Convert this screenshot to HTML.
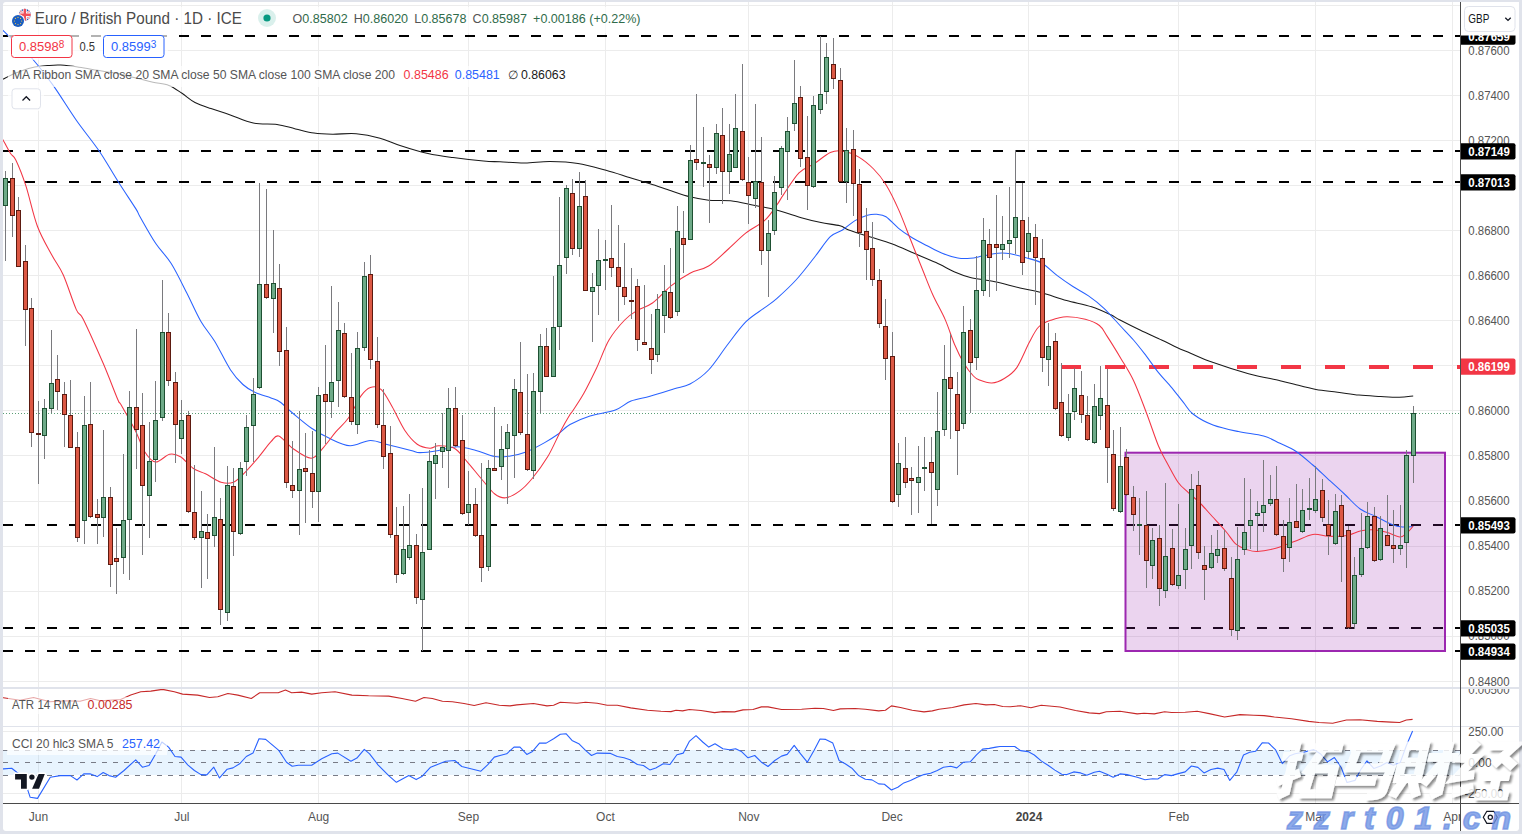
<!DOCTYPE html>
<html><head><meta charset="utf-8"><title>EURGBP</title>
<style>html,body{margin:0;padding:0;background:#e0e3eb;}body{width:1522px;height:834px;overflow:hidden;position:relative;font-family:"Liberation Sans",sans-serif;}svg{position:absolute;left:0;top:0;display:block}text{font-family:"Liberation Sans",sans-serif}</style></head><body>
<svg width="1522" height="834" viewBox="0 0 1522 834">
<rect x="3" y="2" width="1516" height="829" rx="3" ry="3" fill="#ffffff"/>
<clipPath id="ca"><rect x="3" y="2" width="1457" height="801"/></clipPath>
<g shape-rendering="crispEdges">
<rect x="3" y="5" width="1457" height="1" fill="#ececec"/>
<rect x="3" y="50" width="1457" height="1" fill="#ececec"/>
<rect x="3" y="95" width="1457" height="1" fill="#ececec"/>
<rect x="3" y="140" width="1457" height="1" fill="#ececec"/>
<rect x="3" y="185" width="1457" height="1" fill="#ececec"/>
<rect x="3" y="230" width="1457" height="1" fill="#ececec"/>
<rect x="3" y="275" width="1457" height="1" fill="#ececec"/>
<rect x="3" y="320" width="1457" height="1" fill="#ececec"/>
<rect x="3" y="365" width="1457" height="1" fill="#ececec"/>
<rect x="3" y="410" width="1457" height="1" fill="#ececec"/>
<rect x="3" y="455" width="1457" height="1" fill="#ececec"/>
<rect x="3" y="501" width="1457" height="1" fill="#ececec"/>
<rect x="3" y="546" width="1457" height="1" fill="#ececec"/>
<rect x="3" y="591" width="1457" height="1" fill="#ececec"/>
<rect x="3" y="636" width="1457" height="1" fill="#ececec"/>
<rect x="3" y="681" width="1457" height="1" fill="#ececec"/>
<rect x="3" y="731" width="1457" height="1" fill="#ececec"/>
<rect x="3" y="793" width="1457" height="1" fill="#ececec"/>
<rect x="38" y="2" width="1" height="801" fill="#ececec"/>
<rect x="181" y="2" width="1" height="801" fill="#ececec"/>
<rect x="318" y="2" width="1" height="801" fill="#ececec"/>
<rect x="468" y="2" width="1" height="801" fill="#ececec"/>
<rect x="605" y="2" width="1" height="801" fill="#ececec"/>
<rect x="748" y="2" width="1" height="801" fill="#ececec"/>
<rect x="892" y="2" width="1" height="801" fill="#ececec"/>
<rect x="1028" y="2" width="1" height="801" fill="#ececec"/>
<rect x="1178" y="2" width="1" height="801" fill="#ececec"/>
<rect x="1315" y="2" width="1" height="801" fill="#ececec"/>
<rect x="1452" y="2" width="1" height="801" fill="#ececec"/>
</g>
<g stroke="#000000" stroke-width="2" stroke-dasharray="10 12" shape-rendering="crispEdges">
<line x1="3" y1="36" x2="1460" y2="36"/>
<line x1="3" y1="151" x2="1460" y2="151"/>
<line x1="3" y1="182" x2="1460" y2="182"/>
<line x1="3" y1="525" x2="1460" y2="525"/>
<line x1="3" y1="628" x2="1460" y2="628"/>
<line x1="3" y1="651" x2="1460" y2="651"/>
</g>
<line x1="1061" y1="366.5" x2="1460" y2="366.5" stroke="#f23645" stroke-width="4" stroke-dasharray="20 24" shape-rendering="crispEdges"/>
<rect x="1125.5" y="452.7" width="319.5" height="198.3" fill="#9c27b0" fill-opacity="0.2" stroke="#9c27b0" stroke-width="2"/>
<rect x="3" y="750" width="1457" height="25" fill="#2196f3" fill-opacity="0.1"/>
<g stroke="#787b86" stroke-width="1" stroke-dasharray="5 6" shape-rendering="crispEdges">
<line x1="3" y1="750.5" x2="1460" y2="750.5"/>
<line x1="3" y1="762.5" x2="1460" y2="762.5"/>
<line x1="3" y1="775.5" x2="1460" y2="775.5"/>
</g>
<line x1="3" y1="413.5" x2="1460" y2="413.5" stroke="#5b9e76" stroke-width="1" stroke-dasharray="1 2" shape-rendering="crispEdges"/>
<path clip-path="url(#ca)" d="M0.0,80.5 C0.5,80.3 0.6,80.3 3.2,79.1 C5.8,77.8 11.1,74.9 15.8,73.0 C20.6,71.1 26.4,68.9 31.7,67.7 C37.0,66.5 42.7,66.0 47.5,65.6 C52.3,65.2 55.5,64.8 60.7,65.1 C66.0,65.4 72.8,66.3 79.0,67.2 C85.2,68.1 91.0,69.2 97.6,70.3 C104.2,71.4 112.1,72.5 118.7,73.8 C125.3,75.1 131.5,76.9 137.2,78.3 C142.9,79.7 147.7,81.0 153.0,82.2 C158.3,83.4 164.1,83.6 168.9,85.4 C173.7,87.2 177.7,90.5 182.0,93.3 C186.3,96.1 190.2,100.0 195.0,102.5 C199.8,105.0 205.2,106.6 211.0,108.6 C216.8,110.6 222.5,112.3 229.6,114.7 C236.7,117.1 245.4,121.5 253.3,123.1 C261.2,124.7 270.0,123.4 277.0,124.4 C284.0,125.4 289.3,127.5 295.5,128.9 C301.7,130.3 307.8,132.2 314.0,133.1 C320.2,134.0 325.5,134.1 332.5,134.2 C339.5,134.3 348.3,133.0 356.2,133.7 C364.1,134.4 372.7,136.2 380.0,138.2 C387.3,140.2 392.0,142.9 400.0,145.5 C408.0,148.1 419.2,151.6 428.0,153.6 C436.8,155.6 443.8,156.4 453.0,157.6 C462.2,158.8 475.7,160.3 483.5,161.0 C491.3,161.7 493.1,161.5 500.0,161.8 C506.9,162.1 516.7,163.1 525.0,163.0 C533.3,162.9 541.2,161.4 550.0,161.5 C558.8,161.6 568.7,161.9 578.0,163.4 C587.3,164.9 597.2,167.9 606.0,170.3 C614.8,172.7 623.7,175.8 631.0,178.0 C638.3,180.2 643.3,181.6 650.0,183.7 C656.7,185.8 664.3,188.6 671.0,190.8 C677.7,193.0 683.7,195.2 690.0,196.8 C696.3,198.4 702.0,199.5 708.7,200.2 C715.5,200.9 723.2,200.0 730.5,200.8 C737.8,201.6 744.6,203.3 752.4,204.9 C760.2,206.5 769.0,208.0 777.3,210.2 C785.6,212.4 794.9,215.9 802.2,218.0 C809.5,220.1 814.7,221.3 821.0,222.6 C827.3,223.9 835.4,224.6 840.0,225.8 C844.6,227.0 843.6,228.1 848.7,230.0 C853.8,231.9 863.2,234.7 870.5,237.0 C877.8,239.3 885.1,241.3 892.4,244.0 C899.7,246.7 906.9,250.2 914.2,253.3 C921.5,256.4 929.2,259.5 936.0,262.6 C942.8,265.7 949.0,269.5 954.7,272.0 C960.4,274.5 963.6,275.8 970.3,277.4 C977.0,279.0 986.7,280.0 995.0,281.8 C1003.3,283.6 1012.2,286.2 1020.0,288.0 C1027.8,289.8 1033.9,290.7 1041.7,292.8 C1049.5,294.9 1058.3,298.2 1066.6,300.5 C1074.9,302.8 1084.3,304.4 1091.6,306.8 C1098.9,309.2 1105.6,312.4 1110.3,314.6 C1115.0,316.8 1115.0,317.4 1120.0,320.0 C1125.0,322.6 1133.1,326.7 1140.0,330.0 C1146.9,333.3 1155.4,337.1 1161.6,340.0 C1167.8,342.9 1172.3,345.3 1177.0,347.5 C1181.7,349.7 1184.0,350.5 1190.0,353.0 C1196.0,355.5 1203.5,359.2 1213.3,362.6 C1223.0,366.1 1237.4,370.7 1248.5,373.7 C1259.6,376.7 1272.3,378.9 1280.0,380.7 C1287.7,382.5 1288.4,382.9 1294.4,384.3 C1300.4,385.8 1308.8,388.1 1316.0,389.4 C1323.2,390.7 1330.4,391.2 1337.6,392.2 C1344.8,393.1 1351.8,394.4 1359.0,395.1 C1366.2,395.8 1374.0,396.1 1380.7,396.5 C1387.4,396.9 1394.0,397.4 1399.4,397.3 C1404.8,397.2 1410.9,396.2 1413.2,396.0" fill="none" stroke="#1a1a1a" stroke-width="1.05" stroke-linejoin="round"/>
<path clip-path="url(#ca)" d="M0.0,29.0 C0.4,29.2 0.0,27.8 2.5,30.0 C5.0,32.2 10.1,37.3 15.0,42.0 C19.9,46.7 25.4,50.9 31.7,58.0 C38.0,65.2 45.3,74.5 52.8,84.9 C60.3,95.3 68.8,109.5 76.5,120.5 C84.2,131.5 92.0,140.5 99.0,150.8 C106.0,161.1 112.5,172.8 118.7,182.5 C124.9,192.2 132.3,203.2 135.9,208.9 C139.5,214.6 136.7,211.1 140.0,216.8 C143.3,222.5 150.4,235.5 155.6,243.3 C160.8,251.1 166.0,255.2 171.2,263.5 C176.4,271.8 181.9,283.4 186.8,293.0 C191.7,302.6 196.1,313.1 200.8,321.2 C205.5,329.3 209.9,333.4 214.8,341.5 C219.7,349.6 225.7,362.5 230.4,369.7 C235.1,376.9 238.8,380.7 242.9,384.5 C247.1,388.3 250.6,390.4 255.3,392.6 C260.0,394.9 266.9,396.4 271.0,398.0 C275.1,399.6 276.4,399.5 280.0,402.0 C283.6,404.5 287.3,408.7 292.5,413.0 C297.7,417.3 305.0,423.7 311.2,428.0 C317.4,432.3 323.4,435.6 329.9,438.6 C336.4,441.6 343.2,445.5 350.0,445.8 C356.8,446.1 363.9,440.6 370.4,440.5 C376.9,440.4 382.2,443.4 389.0,445.0 C395.8,446.6 405.8,449.1 411.0,450.4 C416.2,451.7 415.4,452.6 420.0,452.6 C424.6,452.6 432.5,451.4 438.7,450.4 C444.9,449.4 451.2,446.7 457.4,446.7 C463.6,446.7 469.8,448.8 476.0,450.4 C482.2,452.0 489.1,455.7 494.8,456.6 C500.5,457.5 505.2,456.8 510.4,456.0 C515.6,455.2 520.3,454.2 526.0,452.0 C531.7,449.8 539.5,445.5 544.7,442.6 C549.9,439.7 553.0,437.8 557.2,434.8 C561.4,431.8 564.5,427.6 570.0,424.5 C575.5,421.4 582.5,418.4 590.0,416.0 C597.5,413.6 608.5,412.5 615.3,410.0 C622.1,407.5 625.2,403.3 631.0,401.0 C636.8,398.7 642.8,398.3 650.0,396.3 C657.2,394.3 667.6,390.9 674.3,388.8 C681.0,386.8 684.3,387.1 690.0,384.0 C695.7,380.9 702.4,376.5 708.6,370.0 C714.8,363.5 721.1,353.1 727.3,345.0 C733.5,336.9 739.8,327.9 746.0,321.7 C752.2,315.5 759.5,311.6 764.7,307.7 C769.9,303.8 771.8,302.9 777.0,298.3 C782.2,293.7 789.7,286.9 796.0,280.0 C802.3,273.1 809.0,264.2 814.7,257.0 C820.4,249.8 825.7,241.2 830.3,236.7 C834.9,232.2 838.4,232.7 842.5,230.0 C846.6,227.3 850.9,223.0 855.0,220.6 C859.1,218.2 863.8,216.4 867.4,215.3 C871.0,214.2 873.7,214.1 876.8,214.3 C879.9,214.6 882.4,214.5 886.0,216.8 C889.6,219.1 894.4,224.9 898.6,228.3 C902.8,231.7 906.3,234.1 911.0,237.0 C915.7,239.9 921.4,242.8 926.6,245.5 C931.8,248.2 937.0,251.2 942.2,253.3 C947.4,255.4 953.1,257.2 957.8,258.0 C962.5,258.8 966.2,258.6 970.3,258.3 C974.4,258.0 977.9,256.9 982.5,256.0 C987.1,255.2 993.3,253.6 998.0,253.2 C1002.7,252.8 1005.8,253.0 1010.5,253.8 C1015.2,254.6 1020.8,256.3 1026.0,257.8 C1031.2,259.3 1036.5,260.0 1041.7,263.0 C1046.9,266.0 1052.1,271.7 1057.3,275.6 C1062.5,279.5 1067.7,283.1 1072.9,286.5 C1078.1,289.9 1083.3,292.3 1088.5,295.9 C1093.7,299.5 1098.8,303.4 1104.0,308.3 C1109.2,313.2 1115.1,320.2 1120.0,325.5 C1124.9,330.8 1129.2,335.0 1133.5,340.0 C1137.8,345.0 1141.8,350.2 1146.0,355.6 C1150.2,361.1 1154.3,367.5 1158.5,372.7 C1162.7,377.9 1166.8,381.9 1171.0,386.8 C1175.2,391.8 1179.7,397.9 1183.4,402.4 C1187.1,406.9 1188.1,410.2 1193.0,414.0 C1197.9,417.8 1205.4,422.1 1213.0,425.0 C1220.6,427.9 1230.1,429.8 1238.5,431.6 C1246.9,433.4 1256.7,434.1 1263.6,436.0 C1270.5,437.9 1274.6,440.8 1280.0,443.3 C1285.4,445.8 1290.3,447.6 1295.8,451.2 C1301.3,454.8 1307.3,460.3 1312.8,465.0 C1318.3,469.7 1323.3,474.8 1328.6,479.6 C1333.9,484.4 1339.1,489.1 1344.4,494.0 C1349.7,498.9 1354.9,505.2 1360.2,509.0 C1365.5,512.8 1370.7,513.9 1376.0,516.5 C1381.3,519.1 1387.6,522.6 1392.0,524.4 C1396.4,526.1 1398.9,526.6 1402.4,527.0 C1405.9,527.4 1411.4,526.6 1413.2,526.5" fill="none" stroke="#2962ff" stroke-width="1.05" stroke-linejoin="round"/>
<path clip-path="url(#ca)" d="M0.0,136.0 C0.5,136.7 1.4,137.4 3.2,140.3 C5.0,143.2 8.5,150.2 10.6,153.5 C12.7,156.8 13.2,154.6 15.8,160.0 C18.4,165.4 22.3,174.9 25.9,185.9 C29.5,196.9 33.1,214.7 37.4,226.2 C41.7,237.7 47.5,246.9 51.8,255.0 C56.1,263.1 59.2,265.9 63.3,275.0 C67.4,284.1 72.9,302.2 76.3,309.6 C79.7,317.1 79.0,310.6 83.5,319.7 C88.0,328.8 97.8,350.9 103.6,364.3 C109.3,377.7 115.1,393.3 118.0,400.0 C120.9,406.7 118.0,399.4 120.9,404.5 C123.8,409.6 131.3,422.5 135.3,430.4 C139.3,438.3 141.3,446.4 144.7,451.7 C148.1,457.0 151.4,461.6 155.6,462.0 C159.8,462.4 165.4,455.1 169.6,454.2 C173.8,453.3 176.6,454.4 180.5,456.7 C184.4,459.0 188.8,465.3 193.0,468.2 C197.2,471.1 200.8,471.5 205.5,473.8 C210.2,476.1 216.3,480.8 221.0,482.2 C225.7,483.6 229.3,484.0 233.5,482.2 C237.7,480.4 241.8,475.4 246.0,471.3 C250.2,467.2 254.3,462.2 258.5,457.3 C262.7,452.4 267.6,445.2 271.0,441.7 C274.4,438.1 275.1,434.9 278.7,436.0 C282.3,437.1 287.1,444.5 292.5,448.2 C297.9,451.9 306.0,458.3 311.2,458.2 C316.4,458.1 319.5,451.7 323.6,447.3 C327.7,442.9 331.8,436.6 336.0,431.7 C340.2,426.8 344.4,423.7 348.6,417.7 C352.8,411.7 357.4,400.9 361.0,395.9 C364.6,390.9 367.0,388.6 370.4,387.5 C373.8,386.4 377.7,386.4 381.3,389.6 C384.9,392.8 388.3,400.0 392.2,406.8 C396.1,413.6 400.5,424.0 404.7,430.2 C408.9,436.4 413.0,441.2 417.2,444.2 C421.4,447.2 426.4,447.9 430.0,448.2 C433.6,448.4 434.6,445.7 438.7,445.7 C442.8,445.7 449.6,445.6 454.3,448.2 C459.0,450.8 462.1,456.0 466.8,461.3 C471.5,466.6 477.7,474.6 482.4,480.0 C487.1,485.4 490.9,491.0 494.8,494.0 C498.7,497.0 501.5,498.3 505.7,497.8 C509.9,497.3 515.4,494.1 519.8,490.9 C524.2,487.7 527.5,484.2 532.2,478.5 C536.9,472.8 543.1,464.4 547.8,456.6 C552.5,448.8 556.6,438.7 560.3,431.7 C564.0,424.7 567.8,418.2 570.0,414.6 C572.2,411.0 571.0,413.6 573.3,410.0 C575.6,406.4 580.1,400.0 584.0,393.0 C587.9,386.0 592.4,376.8 596.6,368.0 C600.8,359.2 604.3,348.0 609.0,340.0 C613.7,332.0 620.0,324.9 624.7,320.0 C629.4,315.1 632.4,313.3 637.0,310.5 C641.6,307.7 646.8,307.1 652.5,303.0 C658.2,298.9 664.8,290.9 671.0,285.9 C677.2,280.9 683.7,276.5 690.0,273.2 C696.3,269.9 702.4,269.9 708.6,266.0 C714.8,262.1 721.1,255.5 727.3,250.0 C733.5,244.5 739.8,237.8 746.0,232.9 C752.2,228.0 759.5,225.1 764.7,220.4 C769.9,215.7 773.9,209.1 777.0,204.8 C780.1,200.5 779.8,199.9 783.5,194.6 C787.2,189.3 793.8,178.0 799.0,172.8 C804.2,167.6 809.5,166.8 814.7,163.4 C819.9,160.0 825.7,154.6 830.3,152.5 C834.9,150.4 837.9,150.3 842.5,151.0 C847.1,151.7 852.8,153.6 858.0,156.6 C863.2,159.6 868.9,164.3 873.6,169.0 C878.3,173.7 881.8,177.9 886.0,184.7 C890.2,191.5 894.4,200.2 898.6,209.6 C902.8,218.9 906.9,230.4 911.0,240.8 C915.1,251.2 919.9,263.0 923.5,272.0 C927.1,281.0 929.3,287.0 932.9,295.0 C936.5,303.0 941.7,311.6 945.3,319.9 C948.9,328.2 951.6,337.5 954.7,344.8 C957.8,352.1 960.9,358.3 964.0,363.5 C967.1,368.7 970.8,373.2 973.4,376.0 C976.0,378.8 976.3,378.8 979.4,380.0 C982.5,381.2 987.6,383.2 991.8,383.0 C995.9,382.8 1000.1,381.1 1004.3,378.5 C1008.5,375.9 1012.6,373.6 1016.8,367.6 C1020.9,361.6 1025.6,349.4 1029.2,342.6 C1032.8,335.8 1035.0,330.7 1038.6,327.0 C1042.2,323.3 1046.3,321.9 1051.0,320.2 C1055.7,318.5 1060.9,316.9 1066.6,316.8 C1072.3,316.7 1079.8,317.9 1085.3,319.3 C1090.8,320.8 1095.8,322.6 1099.4,325.5 C1103.1,328.4 1103.6,330.9 1107.2,336.4 C1110.8,341.9 1116.6,351.3 1121.0,358.7 C1125.4,366.1 1129.3,371.7 1133.5,380.5 C1137.7,389.3 1141.8,400.8 1146.0,411.7 C1150.2,422.6 1154.9,437.3 1158.5,446.0 C1162.1,454.7 1164.2,457.7 1167.5,463.7 C1170.8,469.7 1174.5,477.3 1178.0,482.2 C1181.5,487.1 1185.1,489.5 1188.6,492.8 C1192.1,496.1 1195.0,498.1 1199.0,502.0 C1203.0,505.9 1207.9,511.7 1212.3,516.5 C1216.7,521.3 1221.5,526.4 1225.5,531.0 C1229.5,535.6 1232.5,541.1 1236.0,544.2 C1239.5,547.3 1243.1,548.3 1246.6,549.5 C1250.1,550.7 1252.3,551.7 1257.2,551.5 C1262.1,551.3 1269.6,549.9 1275.8,548.2 C1282.0,546.6 1288.1,543.9 1294.3,541.6 C1300.5,539.3 1307.1,535.3 1312.8,534.4 C1318.5,533.5 1322.9,536.1 1328.6,536.3 C1334.3,536.5 1341.7,536.4 1347.0,535.5 C1352.3,534.6 1355.8,532.0 1360.2,531.0 C1364.6,530.0 1369.0,529.5 1373.4,529.7 C1377.8,529.9 1382.2,531.1 1386.6,532.3 C1391.0,533.5 1396.4,536.9 1399.8,537.0 C1403.2,537.1 1404.8,534.8 1407.0,533.0 C1409.2,531.2 1412.2,527.2 1413.2,526.0" fill="none" stroke="#f23645" stroke-width="1.05" stroke-linejoin="round"/>
<g shape-rendering="crispEdges">
<rect x="5" y="171" width="1" height="90" fill="#7a7a7e"/>
<rect x="3" y="178" width="5" height="28" fill="#1e5032"/>
<rect x="4" y="179" width="3" height="26" fill="#6eaa88"/>
<rect x="12" y="163" width="1" height="74" fill="#7a7a7e"/>
<rect x="10" y="178" width="5" height="38" fill="#5c1a10"/>
<rect x="11" y="179" width="3" height="36" fill="#dc5844"/>
<rect x="18" y="197" width="1" height="70" fill="#7a7a7e"/>
<rect x="16" y="210" width="5" height="57" fill="#5c1a10"/>
<rect x="17" y="211" width="3" height="55" fill="#dc5844"/>
<rect x="25" y="245" width="1" height="101" fill="#7a7a7e"/>
<rect x="23" y="261" width="5" height="49" fill="#5c1a10"/>
<rect x="24" y="262" width="3" height="47" fill="#dc5844"/>
<rect x="31" y="298" width="1" height="149" fill="#7a7a7e"/>
<rect x="29" y="308" width="5" height="125" fill="#5c1a10"/>
<rect x="30" y="309" width="3" height="123" fill="#dc5844"/>
<rect x="38" y="401" width="1" height="83" fill="#7a7a7e"/>
<rect x="36" y="433" width="5" height="2" fill="#5c1a10"/>
<rect x="44" y="399" width="1" height="60" fill="#7a7a7e"/>
<rect x="42" y="408" width="5" height="28" fill="#1e5032"/>
<rect x="43" y="409" width="3" height="26" fill="#6eaa88"/>
<rect x="51" y="330" width="1" height="83" fill="#7a7a7e"/>
<rect x="49" y="383" width="5" height="26" fill="#1e5032"/>
<rect x="50" y="384" width="3" height="24" fill="#6eaa88"/>
<rect x="57" y="355" width="1" height="55" fill="#7a7a7e"/>
<rect x="55" y="379" width="5" height="13" fill="#5c1a10"/>
<rect x="56" y="380" width="3" height="11" fill="#dc5844"/>
<rect x="64" y="382" width="1" height="65" fill="#7a7a7e"/>
<rect x="62" y="394" width="5" height="21" fill="#5c1a10"/>
<rect x="63" y="395" width="3" height="19" fill="#dc5844"/>
<rect x="70" y="380" width="1" height="68" fill="#7a7a7e"/>
<rect x="68" y="415" width="5" height="33" fill="#5c1a10"/>
<rect x="69" y="416" width="3" height="31" fill="#dc5844"/>
<rect x="77" y="432" width="1" height="110" fill="#7a7a7e"/>
<rect x="75" y="447" width="5" height="91" fill="#5c1a10"/>
<rect x="76" y="448" width="3" height="89" fill="#dc5844"/>
<rect x="84" y="396" width="1" height="148" fill="#7a7a7e"/>
<rect x="82" y="425" width="5" height="96" fill="#1e5032"/>
<rect x="83" y="426" width="3" height="94" fill="#6eaa88"/>
<rect x="90" y="382" width="1" height="136" fill="#7a7a7e"/>
<rect x="88" y="424" width="5" height="93" fill="#5c1a10"/>
<rect x="89" y="425" width="3" height="91" fill="#dc5844"/>
<rect x="97" y="499" width="1" height="45" fill="#7a7a7e"/>
<rect x="95" y="514" width="5" height="4" fill="#5c1a10"/>
<rect x="96" y="515" width="3" height="2" fill="#dc5844"/>
<rect x="103" y="430" width="1" height="107" fill="#7a7a7e"/>
<rect x="101" y="497" width="5" height="21" fill="#1e5032"/>
<rect x="102" y="498" width="3" height="19" fill="#6eaa88"/>
<rect x="110" y="487" width="1" height="100" fill="#7a7a7e"/>
<rect x="108" y="497" width="5" height="68" fill="#5c1a10"/>
<rect x="109" y="498" width="3" height="66" fill="#dc5844"/>
<rect x="116" y="528" width="1" height="66" fill="#7a7a7e"/>
<rect x="114" y="558" width="5" height="4" fill="#5c1a10"/>
<rect x="115" y="559" width="3" height="2" fill="#dc5844"/>
<rect x="123" y="454" width="1" height="120" fill="#7a7a7e"/>
<rect x="121" y="520" width="5" height="38" fill="#1e5032"/>
<rect x="122" y="521" width="3" height="36" fill="#6eaa88"/>
<rect x="129" y="391" width="1" height="189" fill="#7a7a7e"/>
<rect x="127" y="407" width="5" height="113" fill="#1e5032"/>
<rect x="128" y="408" width="3" height="111" fill="#6eaa88"/>
<rect x="136" y="329" width="1" height="140" fill="#7a7a7e"/>
<rect x="134" y="407" width="5" height="23" fill="#5c1a10"/>
<rect x="135" y="408" width="3" height="21" fill="#dc5844"/>
<rect x="142" y="393" width="1" height="162" fill="#7a7a7e"/>
<rect x="140" y="425" width="5" height="61" fill="#5c1a10"/>
<rect x="141" y="426" width="3" height="59" fill="#dc5844"/>
<rect x="149" y="422" width="1" height="116" fill="#7a7a7e"/>
<rect x="147" y="461" width="5" height="35" fill="#1e5032"/>
<rect x="148" y="462" width="3" height="33" fill="#6eaa88"/>
<rect x="155" y="381" width="1" height="101" fill="#7a7a7e"/>
<rect x="153" y="420" width="5" height="40" fill="#1e5032"/>
<rect x="154" y="421" width="3" height="38" fill="#6eaa88"/>
<rect x="162" y="280" width="1" height="141" fill="#7a7a7e"/>
<rect x="160" y="332" width="5" height="86" fill="#1e5032"/>
<rect x="161" y="333" width="3" height="84" fill="#6eaa88"/>
<rect x="168" y="313" width="1" height="73" fill="#7a7a7e"/>
<rect x="166" y="332" width="5" height="49" fill="#5c1a10"/>
<rect x="167" y="333" width="3" height="47" fill="#dc5844"/>
<rect x="175" y="372" width="1" height="91" fill="#7a7a7e"/>
<rect x="173" y="382" width="5" height="43" fill="#5c1a10"/>
<rect x="174" y="383" width="3" height="41" fill="#dc5844"/>
<rect x="181" y="400" width="1" height="54" fill="#7a7a7e"/>
<rect x="179" y="420" width="5" height="19" fill="#1e5032"/>
<rect x="180" y="421" width="3" height="17" fill="#6eaa88"/>
<rect x="188" y="411" width="1" height="102" fill="#7a7a7e"/>
<rect x="186" y="415" width="5" height="97" fill="#5c1a10"/>
<rect x="187" y="416" width="3" height="95" fill="#dc5844"/>
<rect x="194" y="465" width="1" height="75" fill="#7a7a7e"/>
<rect x="192" y="512" width="5" height="26" fill="#5c1a10"/>
<rect x="193" y="513" width="3" height="24" fill="#dc5844"/>
<rect x="201" y="491" width="1" height="97" fill="#7a7a7e"/>
<rect x="199" y="531" width="5" height="7" fill="#1e5032"/>
<rect x="200" y="532" width="3" height="5" fill="#6eaa88"/>
<rect x="207" y="514" width="1" height="65" fill="#7a7a7e"/>
<rect x="205" y="532" width="5" height="7" fill="#5c1a10"/>
<rect x="206" y="533" width="3" height="5" fill="#dc5844"/>
<rect x="214" y="447" width="1" height="100" fill="#7a7a7e"/>
<rect x="212" y="517" width="5" height="19" fill="#1e5032"/>
<rect x="213" y="518" width="3" height="17" fill="#6eaa88"/>
<rect x="220" y="498" width="1" height="127" fill="#7a7a7e"/>
<rect x="218" y="519" width="5" height="91" fill="#5c1a10"/>
<rect x="219" y="520" width="3" height="89" fill="#dc5844"/>
<rect x="227" y="466" width="1" height="155" fill="#7a7a7e"/>
<rect x="225" y="485" width="5" height="128" fill="#1e5032"/>
<rect x="226" y="486" width="3" height="126" fill="#6eaa88"/>
<rect x="233" y="468" width="1" height="88" fill="#7a7a7e"/>
<rect x="231" y="486" width="5" height="46" fill="#5c1a10"/>
<rect x="232" y="487" width="3" height="44" fill="#dc5844"/>
<rect x="240" y="462" width="1" height="73" fill="#7a7a7e"/>
<rect x="238" y="468" width="5" height="66" fill="#1e5032"/>
<rect x="239" y="469" width="3" height="64" fill="#6eaa88"/>
<rect x="246" y="415" width="1" height="61" fill="#7a7a7e"/>
<rect x="244" y="427" width="5" height="35" fill="#1e5032"/>
<rect x="245" y="428" width="3" height="33" fill="#6eaa88"/>
<rect x="253" y="378" width="1" height="84" fill="#7a7a7e"/>
<rect x="251" y="394" width="5" height="32" fill="#1e5032"/>
<rect x="252" y="395" width="3" height="30" fill="#6eaa88"/>
<rect x="259" y="183" width="1" height="206" fill="#7a7a7e"/>
<rect x="257" y="284" width="5" height="104" fill="#1e5032"/>
<rect x="258" y="285" width="3" height="102" fill="#6eaa88"/>
<rect x="266" y="189" width="1" height="110" fill="#7a7a7e"/>
<rect x="264" y="284" width="5" height="14" fill="#5c1a10"/>
<rect x="265" y="285" width="3" height="12" fill="#dc5844"/>
<rect x="273" y="230" width="1" height="103" fill="#7a7a7e"/>
<rect x="271" y="283" width="5" height="16" fill="#1e5032"/>
<rect x="272" y="284" width="3" height="14" fill="#6eaa88"/>
<rect x="279" y="264" width="1" height="102" fill="#7a7a7e"/>
<rect x="277" y="288" width="5" height="64" fill="#5c1a10"/>
<rect x="278" y="289" width="3" height="62" fill="#dc5844"/>
<rect x="286" y="327" width="1" height="161" fill="#7a7a7e"/>
<rect x="284" y="350" width="5" height="133" fill="#5c1a10"/>
<rect x="285" y="351" width="3" height="131" fill="#dc5844"/>
<rect x="292" y="441" width="1" height="57" fill="#7a7a7e"/>
<rect x="290" y="485" width="5" height="6" fill="#5c1a10"/>
<rect x="291" y="486" width="3" height="4" fill="#dc5844"/>
<rect x="299" y="411" width="1" height="124" fill="#7a7a7e"/>
<rect x="297" y="469" width="5" height="22" fill="#1e5032"/>
<rect x="298" y="470" width="3" height="20" fill="#6eaa88"/>
<rect x="305" y="433" width="1" height="90" fill="#7a7a7e"/>
<rect x="303" y="468" width="5" height="4" fill="#5c1a10"/>
<rect x="304" y="469" width="3" height="2" fill="#dc5844"/>
<rect x="312" y="431" width="1" height="77" fill="#7a7a7e"/>
<rect x="310" y="473" width="5" height="19" fill="#5c1a10"/>
<rect x="311" y="474" width="3" height="17" fill="#dc5844"/>
<rect x="318" y="387" width="1" height="135" fill="#7a7a7e"/>
<rect x="316" y="395" width="5" height="97" fill="#1e5032"/>
<rect x="317" y="396" width="3" height="95" fill="#6eaa88"/>
<rect x="325" y="345" width="1" height="99" fill="#7a7a7e"/>
<rect x="323" y="394" width="5" height="8" fill="#5c1a10"/>
<rect x="324" y="395" width="3" height="6" fill="#dc5844"/>
<rect x="331" y="286" width="1" height="132" fill="#7a7a7e"/>
<rect x="329" y="382" width="5" height="20" fill="#1e5032"/>
<rect x="330" y="383" width="3" height="18" fill="#6eaa88"/>
<rect x="338" y="302" width="1" height="105" fill="#7a7a7e"/>
<rect x="336" y="330" width="5" height="51" fill="#1e5032"/>
<rect x="337" y="331" width="3" height="49" fill="#6eaa88"/>
<rect x="344" y="323" width="1" height="75" fill="#7a7a7e"/>
<rect x="342" y="333" width="5" height="64" fill="#5c1a10"/>
<rect x="343" y="334" width="3" height="62" fill="#dc5844"/>
<rect x="351" y="353" width="1" height="72" fill="#7a7a7e"/>
<rect x="349" y="397" width="5" height="25" fill="#5c1a10"/>
<rect x="350" y="398" width="3" height="23" fill="#dc5844"/>
<rect x="357" y="332" width="1" height="102" fill="#7a7a7e"/>
<rect x="355" y="348" width="5" height="77" fill="#1e5032"/>
<rect x="356" y="349" width="3" height="75" fill="#6eaa88"/>
<rect x="364" y="262" width="1" height="89" fill="#7a7a7e"/>
<rect x="362" y="276" width="5" height="72" fill="#1e5032"/>
<rect x="363" y="277" width="3" height="70" fill="#6eaa88"/>
<rect x="370" y="255" width="1" height="114" fill="#7a7a7e"/>
<rect x="368" y="274" width="5" height="86" fill="#5c1a10"/>
<rect x="369" y="275" width="3" height="84" fill="#dc5844"/>
<rect x="377" y="337" width="1" height="91" fill="#7a7a7e"/>
<rect x="375" y="361" width="5" height="64" fill="#5c1a10"/>
<rect x="376" y="362" width="3" height="62" fill="#dc5844"/>
<rect x="383" y="389" width="1" height="80" fill="#7a7a7e"/>
<rect x="381" y="425" width="5" height="32" fill="#5c1a10"/>
<rect x="382" y="426" width="3" height="30" fill="#dc5844"/>
<rect x="390" y="426" width="1" height="112" fill="#7a7a7e"/>
<rect x="388" y="453" width="5" height="82" fill="#5c1a10"/>
<rect x="389" y="454" width="3" height="80" fill="#dc5844"/>
<rect x="396" y="507" width="1" height="76" fill="#7a7a7e"/>
<rect x="394" y="535" width="5" height="40" fill="#5c1a10"/>
<rect x="395" y="536" width="3" height="38" fill="#dc5844"/>
<rect x="403" y="506" width="1" height="69" fill="#7a7a7e"/>
<rect x="401" y="549" width="5" height="25" fill="#1e5032"/>
<rect x="402" y="550" width="3" height="23" fill="#6eaa88"/>
<rect x="409" y="494" width="1" height="66" fill="#7a7a7e"/>
<rect x="407" y="545" width="5" height="13" fill="#1e5032"/>
<rect x="408" y="546" width="3" height="11" fill="#6eaa88"/>
<rect x="416" y="534" width="1" height="70" fill="#7a7a7e"/>
<rect x="414" y="545" width="5" height="53" fill="#5c1a10"/>
<rect x="415" y="546" width="3" height="51" fill="#dc5844"/>
<rect x="422" y="488" width="1" height="163" fill="#7a7a7e"/>
<rect x="420" y="552" width="5" height="48" fill="#1e5032"/>
<rect x="421" y="553" width="3" height="46" fill="#6eaa88"/>
<rect x="429" y="450" width="1" height="100" fill="#7a7a7e"/>
<rect x="427" y="461" width="5" height="89" fill="#1e5032"/>
<rect x="428" y="462" width="3" height="87" fill="#6eaa88"/>
<rect x="435" y="443" width="1" height="56" fill="#7a7a7e"/>
<rect x="433" y="455" width="5" height="9" fill="#1e5032"/>
<rect x="434" y="456" width="3" height="7" fill="#6eaa88"/>
<rect x="442" y="413" width="1" height="55" fill="#7a7a7e"/>
<rect x="440" y="447" width="5" height="5" fill="#1e5032"/>
<rect x="441" y="448" width="3" height="3" fill="#6eaa88"/>
<rect x="448" y="388" width="1" height="100" fill="#7a7a7e"/>
<rect x="446" y="408" width="5" height="43" fill="#1e5032"/>
<rect x="447" y="409" width="3" height="41" fill="#6eaa88"/>
<rect x="455" y="387" width="1" height="60" fill="#7a7a7e"/>
<rect x="453" y="408" width="5" height="38" fill="#5c1a10"/>
<rect x="454" y="409" width="3" height="36" fill="#dc5844"/>
<rect x="462" y="415" width="1" height="100" fill="#7a7a7e"/>
<rect x="460" y="440" width="5" height="74" fill="#5c1a10"/>
<rect x="461" y="441" width="3" height="72" fill="#dc5844"/>
<rect x="468" y="471" width="1" height="54" fill="#7a7a7e"/>
<rect x="466" y="504" width="5" height="9" fill="#1e5032"/>
<rect x="467" y="505" width="3" height="7" fill="#6eaa88"/>
<rect x="475" y="488" width="1" height="49" fill="#7a7a7e"/>
<rect x="473" y="504" width="5" height="32" fill="#5c1a10"/>
<rect x="474" y="505" width="3" height="30" fill="#dc5844"/>
<rect x="481" y="463" width="1" height="119" fill="#7a7a7e"/>
<rect x="479" y="535" width="5" height="33" fill="#5c1a10"/>
<rect x="480" y="536" width="3" height="31" fill="#dc5844"/>
<rect x="488" y="460" width="1" height="111" fill="#7a7a7e"/>
<rect x="486" y="468" width="5" height="99" fill="#1e5032"/>
<rect x="487" y="469" width="3" height="97" fill="#6eaa88"/>
<rect x="494" y="407" width="1" height="64" fill="#7a7a7e"/>
<rect x="492" y="468" width="5" height="3" fill="#5c1a10"/>
<rect x="493" y="469" width="3" height="1" fill="#dc5844"/>
<rect x="501" y="426" width="1" height="54" fill="#7a7a7e"/>
<rect x="499" y="449" width="5" height="18" fill="#1e5032"/>
<rect x="500" y="450" width="3" height="16" fill="#6eaa88"/>
<rect x="507" y="424" width="1" height="80" fill="#7a7a7e"/>
<rect x="505" y="432" width="5" height="17" fill="#1e5032"/>
<rect x="506" y="433" width="3" height="15" fill="#6eaa88"/>
<rect x="514" y="379" width="1" height="99" fill="#7a7a7e"/>
<rect x="512" y="389" width="5" height="47" fill="#1e5032"/>
<rect x="513" y="390" width="3" height="45" fill="#6eaa88"/>
<rect x="520" y="342" width="1" height="93" fill="#7a7a7e"/>
<rect x="518" y="392" width="5" height="41" fill="#5c1a10"/>
<rect x="519" y="393" width="3" height="39" fill="#dc5844"/>
<rect x="527" y="374" width="1" height="97" fill="#7a7a7e"/>
<rect x="525" y="434" width="5" height="36" fill="#5c1a10"/>
<rect x="526" y="435" width="3" height="34" fill="#dc5844"/>
<rect x="533" y="373" width="1" height="106" fill="#7a7a7e"/>
<rect x="531" y="391" width="5" height="80" fill="#1e5032"/>
<rect x="532" y="392" width="3" height="78" fill="#6eaa88"/>
<rect x="540" y="334" width="1" height="79" fill="#7a7a7e"/>
<rect x="538" y="346" width="5" height="46" fill="#1e5032"/>
<rect x="539" y="347" width="3" height="44" fill="#6eaa88"/>
<rect x="546" y="328" width="1" height="49" fill="#7a7a7e"/>
<rect x="544" y="346" width="5" height="31" fill="#5c1a10"/>
<rect x="545" y="347" width="3" height="29" fill="#dc5844"/>
<rect x="553" y="276" width="1" height="101" fill="#7a7a7e"/>
<rect x="551" y="327" width="5" height="50" fill="#1e5032"/>
<rect x="552" y="328" width="3" height="48" fill="#6eaa88"/>
<rect x="559" y="197" width="1" height="153" fill="#7a7a7e"/>
<rect x="557" y="265" width="5" height="62" fill="#1e5032"/>
<rect x="558" y="266" width="3" height="60" fill="#6eaa88"/>
<rect x="566" y="185" width="1" height="89" fill="#7a7a7e"/>
<rect x="564" y="188" width="5" height="70" fill="#1e5032"/>
<rect x="565" y="189" width="3" height="68" fill="#6eaa88"/>
<rect x="572" y="179" width="1" height="76" fill="#7a7a7e"/>
<rect x="570" y="193" width="5" height="56" fill="#5c1a10"/>
<rect x="571" y="194" width="3" height="54" fill="#dc5844"/>
<rect x="579" y="172" width="1" height="85" fill="#7a7a7e"/>
<rect x="577" y="206" width="5" height="43" fill="#1e5032"/>
<rect x="578" y="207" width="3" height="41" fill="#6eaa88"/>
<rect x="585" y="180" width="1" height="111" fill="#7a7a7e"/>
<rect x="583" y="196" width="5" height="95" fill="#5c1a10"/>
<rect x="584" y="197" width="3" height="93" fill="#dc5844"/>
<rect x="592" y="273" width="1" height="69" fill="#7a7a7e"/>
<rect x="590" y="287" width="5" height="5" fill="#1e5032"/>
<rect x="591" y="288" width="3" height="3" fill="#6eaa88"/>
<rect x="598" y="229" width="1" height="86" fill="#7a7a7e"/>
<rect x="596" y="260" width="5" height="26" fill="#1e5032"/>
<rect x="597" y="261" width="3" height="24" fill="#6eaa88"/>
<rect x="605" y="240" width="1" height="50" fill="#7a7a7e"/>
<rect x="603" y="259" width="5" height="2" fill="#1e5032"/>
<rect x="611" y="205" width="1" height="72" fill="#7a7a7e"/>
<rect x="609" y="258" width="5" height="10" fill="#5c1a10"/>
<rect x="610" y="259" width="3" height="8" fill="#dc5844"/>
<rect x="618" y="225" width="1" height="96" fill="#7a7a7e"/>
<rect x="616" y="267" width="5" height="20" fill="#5c1a10"/>
<rect x="617" y="268" width="3" height="18" fill="#dc5844"/>
<rect x="624" y="243" width="1" height="62" fill="#7a7a7e"/>
<rect x="622" y="287" width="5" height="10" fill="#5c1a10"/>
<rect x="623" y="288" width="3" height="8" fill="#dc5844"/>
<rect x="631" y="268" width="1" height="51" fill="#7a7a7e"/>
<rect x="629" y="300" width="5" height="2" fill="#5c1a10"/>
<rect x="637" y="279" width="1" height="72" fill="#7a7a7e"/>
<rect x="635" y="286" width="5" height="54" fill="#5c1a10"/>
<rect x="636" y="287" width="3" height="52" fill="#dc5844"/>
<rect x="644" y="285" width="1" height="60" fill="#7a7a7e"/>
<rect x="642" y="342" width="5" height="3" fill="#5c1a10"/>
<rect x="643" y="343" width="3" height="1" fill="#dc5844"/>
<rect x="651" y="314" width="1" height="60" fill="#7a7a7e"/>
<rect x="649" y="348" width="5" height="12" fill="#5c1a10"/>
<rect x="650" y="349" width="3" height="10" fill="#dc5844"/>
<rect x="657" y="294" width="1" height="68" fill="#7a7a7e"/>
<rect x="655" y="309" width="5" height="46" fill="#1e5032"/>
<rect x="656" y="310" width="3" height="44" fill="#6eaa88"/>
<rect x="664" y="265" width="1" height="68" fill="#7a7a7e"/>
<rect x="662" y="291" width="5" height="25" fill="#1e5032"/>
<rect x="663" y="292" width="3" height="23" fill="#6eaa88"/>
<rect x="670" y="248" width="1" height="71" fill="#7a7a7e"/>
<rect x="668" y="292" width="5" height="26" fill="#5c1a10"/>
<rect x="669" y="293" width="3" height="24" fill="#dc5844"/>
<rect x="677" y="206" width="1" height="110" fill="#7a7a7e"/>
<rect x="675" y="231" width="5" height="81" fill="#1e5032"/>
<rect x="676" y="232" width="3" height="79" fill="#6eaa88"/>
<rect x="683" y="211" width="1" height="62" fill="#7a7a7e"/>
<rect x="681" y="238" width="5" height="7" fill="#5c1a10"/>
<rect x="682" y="239" width="3" height="5" fill="#dc5844"/>
<rect x="690" y="145" width="1" height="95" fill="#7a7a7e"/>
<rect x="688" y="160" width="5" height="80" fill="#1e5032"/>
<rect x="689" y="161" width="3" height="78" fill="#6eaa88"/>
<rect x="696" y="94" width="1" height="76" fill="#7a7a7e"/>
<rect x="694" y="159" width="5" height="4" fill="#5c1a10"/>
<rect x="695" y="160" width="3" height="2" fill="#dc5844"/>
<rect x="703" y="127" width="1" height="60" fill="#7a7a7e"/>
<rect x="701" y="162" width="5" height="2" fill="#1e5032"/>
<rect x="709" y="155" width="1" height="68" fill="#7a7a7e"/>
<rect x="707" y="164" width="5" height="4" fill="#5c1a10"/>
<rect x="708" y="165" width="3" height="2" fill="#dc5844"/>
<rect x="716" y="124" width="1" height="50" fill="#7a7a7e"/>
<rect x="714" y="133" width="5" height="35" fill="#1e5032"/>
<rect x="715" y="134" width="3" height="33" fill="#6eaa88"/>
<rect x="722" y="108" width="1" height="96" fill="#7a7a7e"/>
<rect x="720" y="135" width="5" height="37" fill="#5c1a10"/>
<rect x="721" y="136" width="3" height="35" fill="#dc5844"/>
<rect x="729" y="124" width="1" height="70" fill="#7a7a7e"/>
<rect x="727" y="154" width="5" height="18" fill="#1e5032"/>
<rect x="728" y="155" width="3" height="16" fill="#6eaa88"/>
<rect x="735" y="94" width="1" height="74" fill="#7a7a7e"/>
<rect x="733" y="128" width="5" height="40" fill="#1e5032"/>
<rect x="734" y="129" width="3" height="38" fill="#6eaa88"/>
<rect x="742" y="64" width="1" height="117" fill="#7a7a7e"/>
<rect x="740" y="131" width="5" height="49" fill="#5c1a10"/>
<rect x="741" y="132" width="3" height="47" fill="#dc5844"/>
<rect x="748" y="157" width="1" height="67" fill="#7a7a7e"/>
<rect x="746" y="182" width="5" height="14" fill="#5c1a10"/>
<rect x="747" y="183" width="3" height="12" fill="#dc5844"/>
<rect x="755" y="104" width="1" height="104" fill="#7a7a7e"/>
<rect x="753" y="181" width="5" height="18" fill="#1e5032"/>
<rect x="754" y="182" width="3" height="16" fill="#6eaa88"/>
<rect x="761" y="137" width="1" height="128" fill="#7a7a7e"/>
<rect x="759" y="182" width="5" height="69" fill="#5c1a10"/>
<rect x="760" y="183" width="3" height="67" fill="#dc5844"/>
<rect x="768" y="220" width="1" height="77" fill="#7a7a7e"/>
<rect x="766" y="233" width="5" height="18" fill="#1e5032"/>
<rect x="767" y="234" width="3" height="16" fill="#6eaa88"/>
<rect x="774" y="176" width="1" height="59" fill="#7a7a7e"/>
<rect x="772" y="192" width="5" height="39" fill="#1e5032"/>
<rect x="773" y="193" width="3" height="37" fill="#6eaa88"/>
<rect x="781" y="146" width="1" height="49" fill="#7a7a7e"/>
<rect x="779" y="148" width="5" height="40" fill="#1e5032"/>
<rect x="780" y="149" width="3" height="38" fill="#6eaa88"/>
<rect x="787" y="117" width="1" height="83" fill="#7a7a7e"/>
<rect x="785" y="131" width="5" height="21" fill="#1e5032"/>
<rect x="786" y="132" width="3" height="19" fill="#6eaa88"/>
<rect x="794" y="60" width="1" height="71" fill="#7a7a7e"/>
<rect x="792" y="103" width="5" height="21" fill="#1e5032"/>
<rect x="793" y="104" width="3" height="19" fill="#6eaa88"/>
<rect x="800" y="86" width="1" height="81" fill="#7a7a7e"/>
<rect x="798" y="97" width="5" height="62" fill="#5c1a10"/>
<rect x="799" y="98" width="3" height="60" fill="#dc5844"/>
<rect x="807" y="116" width="1" height="94" fill="#7a7a7e"/>
<rect x="805" y="157" width="5" height="29" fill="#5c1a10"/>
<rect x="806" y="158" width="3" height="27" fill="#dc5844"/>
<rect x="813" y="96" width="1" height="92" fill="#7a7a7e"/>
<rect x="811" y="105" width="5" height="82" fill="#1e5032"/>
<rect x="812" y="106" width="3" height="80" fill="#6eaa88"/>
<rect x="820" y="36" width="1" height="78" fill="#7a7a7e"/>
<rect x="818" y="94" width="5" height="16" fill="#1e5032"/>
<rect x="819" y="95" width="3" height="14" fill="#6eaa88"/>
<rect x="826" y="43" width="1" height="61" fill="#7a7a7e"/>
<rect x="824" y="57" width="5" height="35" fill="#1e5032"/>
<rect x="825" y="58" width="3" height="33" fill="#6eaa88"/>
<rect x="833" y="38" width="1" height="51" fill="#7a7a7e"/>
<rect x="831" y="64" width="5" height="15" fill="#5c1a10"/>
<rect x="832" y="65" width="3" height="13" fill="#dc5844"/>
<rect x="840" y="68" width="1" height="114" fill="#7a7a7e"/>
<rect x="838" y="80" width="5" height="102" fill="#5c1a10"/>
<rect x="839" y="81" width="3" height="100" fill="#dc5844"/>
<rect x="846" y="128" width="1" height="75" fill="#7a7a7e"/>
<rect x="844" y="150" width="5" height="32" fill="#1e5032"/>
<rect x="845" y="151" width="3" height="30" fill="#6eaa88"/>
<rect x="853" y="130" width="1" height="86" fill="#7a7a7e"/>
<rect x="851" y="149" width="5" height="35" fill="#5c1a10"/>
<rect x="852" y="150" width="3" height="33" fill="#dc5844"/>
<rect x="859" y="169" width="1" height="78" fill="#7a7a7e"/>
<rect x="857" y="184" width="5" height="49" fill="#5c1a10"/>
<rect x="858" y="185" width="3" height="47" fill="#dc5844"/>
<rect x="866" y="208" width="1" height="72" fill="#7a7a7e"/>
<rect x="864" y="231" width="5" height="19" fill="#5c1a10"/>
<rect x="865" y="232" width="3" height="17" fill="#dc5844"/>
<rect x="872" y="222" width="1" height="64" fill="#7a7a7e"/>
<rect x="870" y="248" width="5" height="32" fill="#5c1a10"/>
<rect x="871" y="249" width="3" height="30" fill="#dc5844"/>
<rect x="879" y="269" width="1" height="59" fill="#7a7a7e"/>
<rect x="877" y="280" width="5" height="44" fill="#5c1a10"/>
<rect x="878" y="281" width="3" height="42" fill="#dc5844"/>
<rect x="885" y="299" width="1" height="81" fill="#7a7a7e"/>
<rect x="883" y="326" width="5" height="33" fill="#5c1a10"/>
<rect x="884" y="327" width="3" height="31" fill="#dc5844"/>
<rect x="892" y="332" width="1" height="171" fill="#7a7a7e"/>
<rect x="890" y="356" width="5" height="146" fill="#5c1a10"/>
<rect x="891" y="357" width="3" height="144" fill="#dc5844"/>
<rect x="898" y="443" width="1" height="64" fill="#7a7a7e"/>
<rect x="896" y="463" width="5" height="32" fill="#1e5032"/>
<rect x="897" y="464" width="3" height="30" fill="#6eaa88"/>
<rect x="905" y="437" width="1" height="51" fill="#7a7a7e"/>
<rect x="903" y="468" width="5" height="15" fill="#5c1a10"/>
<rect x="904" y="469" width="3" height="13" fill="#dc5844"/>
<rect x="911" y="467" width="1" height="48" fill="#7a7a7e"/>
<rect x="909" y="478" width="5" height="3" fill="#5c1a10"/>
<rect x="910" y="479" width="3" height="1" fill="#dc5844"/>
<rect x="918" y="446" width="1" height="67" fill="#7a7a7e"/>
<rect x="916" y="477" width="5" height="6" fill="#1e5032"/>
<rect x="917" y="478" width="3" height="4" fill="#6eaa88"/>
<rect x="924" y="437" width="1" height="54" fill="#7a7a7e"/>
<rect x="922" y="467" width="5" height="2" fill="#1e5032"/>
<rect x="931" y="437" width="1" height="87" fill="#7a7a7e"/>
<rect x="929" y="462" width="5" height="11" fill="#5c1a10"/>
<rect x="930" y="463" width="3" height="9" fill="#dc5844"/>
<rect x="937" y="392" width="1" height="114" fill="#7a7a7e"/>
<rect x="935" y="431" width="5" height="59" fill="#1e5032"/>
<rect x="936" y="432" width="3" height="57" fill="#6eaa88"/>
<rect x="944" y="345" width="1" height="91" fill="#7a7a7e"/>
<rect x="942" y="379" width="5" height="51" fill="#1e5032"/>
<rect x="943" y="380" width="3" height="49" fill="#6eaa88"/>
<rect x="950" y="334" width="1" height="105" fill="#7a7a7e"/>
<rect x="948" y="377" width="5" height="12" fill="#5c1a10"/>
<rect x="949" y="378" width="3" height="10" fill="#dc5844"/>
<rect x="957" y="372" width="1" height="103" fill="#7a7a7e"/>
<rect x="955" y="394" width="5" height="37" fill="#5c1a10"/>
<rect x="956" y="395" width="3" height="35" fill="#dc5844"/>
<rect x="963" y="306" width="1" height="123" fill="#7a7a7e"/>
<rect x="961" y="332" width="5" height="92" fill="#1e5032"/>
<rect x="962" y="333" width="3" height="90" fill="#6eaa88"/>
<rect x="970" y="319" width="1" height="94" fill="#7a7a7e"/>
<rect x="968" y="330" width="5" height="33" fill="#5c1a10"/>
<rect x="969" y="331" width="3" height="31" fill="#dc5844"/>
<rect x="976" y="256" width="1" height="114" fill="#7a7a7e"/>
<rect x="974" y="290" width="5" height="68" fill="#1e5032"/>
<rect x="975" y="291" width="3" height="66" fill="#6eaa88"/>
<rect x="983" y="218" width="1" height="78" fill="#7a7a7e"/>
<rect x="981" y="240" width="5" height="51" fill="#1e5032"/>
<rect x="982" y="241" width="3" height="49" fill="#6eaa88"/>
<rect x="989" y="229" width="1" height="68" fill="#7a7a7e"/>
<rect x="987" y="244" width="5" height="14" fill="#5c1a10"/>
<rect x="988" y="245" width="3" height="12" fill="#dc5844"/>
<rect x="996" y="195" width="1" height="96" fill="#7a7a7e"/>
<rect x="994" y="244" width="5" height="4" fill="#5c1a10"/>
<rect x="995" y="245" width="3" height="2" fill="#dc5844"/>
<rect x="1002" y="216" width="1" height="44" fill="#7a7a7e"/>
<rect x="1000" y="244" width="5" height="6" fill="#1e5032"/>
<rect x="1001" y="245" width="3" height="4" fill="#6eaa88"/>
<rect x="1009" y="187" width="1" height="71" fill="#7a7a7e"/>
<rect x="1007" y="240" width="5" height="4" fill="#1e5032"/>
<rect x="1008" y="241" width="3" height="2" fill="#6eaa88"/>
<rect x="1015" y="150" width="1" height="104" fill="#7a7a7e"/>
<rect x="1013" y="217" width="5" height="21" fill="#1e5032"/>
<rect x="1014" y="218" width="3" height="19" fill="#6eaa88"/>
<rect x="1022" y="183" width="1" height="92" fill="#7a7a7e"/>
<rect x="1020" y="220" width="5" height="43" fill="#5c1a10"/>
<rect x="1021" y="221" width="3" height="41" fill="#dc5844"/>
<rect x="1028" y="217" width="1" height="41" fill="#7a7a7e"/>
<rect x="1026" y="233" width="5" height="19" fill="#1e5032"/>
<rect x="1027" y="234" width="3" height="17" fill="#6eaa88"/>
<rect x="1035" y="224" width="1" height="81" fill="#7a7a7e"/>
<rect x="1033" y="237" width="5" height="21" fill="#5c1a10"/>
<rect x="1034" y="238" width="3" height="19" fill="#dc5844"/>
<rect x="1042" y="239" width="1" height="133" fill="#7a7a7e"/>
<rect x="1040" y="258" width="5" height="100" fill="#5c1a10"/>
<rect x="1041" y="259" width="3" height="98" fill="#dc5844"/>
<rect x="1048" y="323" width="1" height="63" fill="#7a7a7e"/>
<rect x="1046" y="346" width="5" height="14" fill="#1e5032"/>
<rect x="1047" y="347" width="3" height="12" fill="#6eaa88"/>
<rect x="1055" y="333" width="1" height="77" fill="#7a7a7e"/>
<rect x="1053" y="341" width="5" height="68" fill="#5c1a10"/>
<rect x="1054" y="342" width="3" height="66" fill="#dc5844"/>
<rect x="1061" y="363" width="1" height="74" fill="#7a7a7e"/>
<rect x="1059" y="402" width="5" height="34" fill="#5c1a10"/>
<rect x="1060" y="403" width="3" height="32" fill="#dc5844"/>
<rect x="1068" y="394" width="1" height="47" fill="#7a7a7e"/>
<rect x="1066" y="413" width="5" height="25" fill="#1e5032"/>
<rect x="1067" y="414" width="3" height="23" fill="#6eaa88"/>
<rect x="1074" y="368" width="1" height="52" fill="#7a7a7e"/>
<rect x="1072" y="388" width="5" height="24" fill="#1e5032"/>
<rect x="1073" y="389" width="3" height="22" fill="#6eaa88"/>
<rect x="1081" y="371" width="1" height="52" fill="#7a7a7e"/>
<rect x="1079" y="395" width="5" height="20" fill="#5c1a10"/>
<rect x="1080" y="396" width="3" height="18" fill="#dc5844"/>
<rect x="1087" y="396" width="1" height="45" fill="#7a7a7e"/>
<rect x="1085" y="415" width="5" height="25" fill="#5c1a10"/>
<rect x="1086" y="416" width="3" height="23" fill="#dc5844"/>
<rect x="1094" y="384" width="1" height="60" fill="#7a7a7e"/>
<rect x="1092" y="406" width="5" height="37" fill="#1e5032"/>
<rect x="1093" y="407" width="3" height="35" fill="#6eaa88"/>
<rect x="1100" y="366" width="1" height="64" fill="#7a7a7e"/>
<rect x="1098" y="398" width="5" height="18" fill="#1e5032"/>
<rect x="1099" y="399" width="3" height="16" fill="#6eaa88"/>
<rect x="1107" y="369" width="1" height="114" fill="#7a7a7e"/>
<rect x="1105" y="405" width="5" height="43" fill="#5c1a10"/>
<rect x="1106" y="406" width="3" height="41" fill="#dc5844"/>
<rect x="1113" y="430" width="1" height="81" fill="#7a7a7e"/>
<rect x="1111" y="454" width="5" height="55" fill="#5c1a10"/>
<rect x="1112" y="455" width="3" height="53" fill="#dc5844"/>
<rect x="1120" y="427" width="1" height="86" fill="#7a7a7e"/>
<rect x="1118" y="466" width="5" height="46" fill="#1e5032"/>
<rect x="1119" y="467" width="3" height="44" fill="#6eaa88"/>
<rect x="1126" y="449" width="1" height="47" fill="#7a7a7e"/>
<rect x="1124" y="457" width="5" height="38" fill="#5c1a10"/>
<rect x="1125" y="458" width="3" height="36" fill="#dc5844"/>
<rect x="1133" y="486" width="1" height="45" fill="#7a7a7e"/>
<rect x="1131" y="497" width="5" height="18" fill="#5c1a10"/>
<rect x="1132" y="498" width="3" height="16" fill="#dc5844"/>
<rect x="1139" y="498" width="1" height="57" fill="#7a7a7e"/>
<rect x="1137" y="524" width="5" height="2" fill="#1e5032"/>
<rect x="1146" y="491" width="1" height="97" fill="#7a7a7e"/>
<rect x="1144" y="525" width="5" height="36" fill="#5c1a10"/>
<rect x="1145" y="526" width="3" height="34" fill="#dc5844"/>
<rect x="1152" y="528" width="1" height="51" fill="#7a7a7e"/>
<rect x="1150" y="540" width="5" height="26" fill="#1e5032"/>
<rect x="1151" y="541" width="3" height="24" fill="#6eaa88"/>
<rect x="1159" y="525" width="1" height="81" fill="#7a7a7e"/>
<rect x="1157" y="538" width="5" height="51" fill="#5c1a10"/>
<rect x="1158" y="539" width="3" height="49" fill="#dc5844"/>
<rect x="1165" y="483" width="1" height="115" fill="#7a7a7e"/>
<rect x="1163" y="556" width="5" height="35" fill="#1e5032"/>
<rect x="1164" y="557" width="3" height="33" fill="#6eaa88"/>
<rect x="1172" y="529" width="1" height="57" fill="#7a7a7e"/>
<rect x="1170" y="548" width="5" height="37" fill="#5c1a10"/>
<rect x="1171" y="549" width="3" height="35" fill="#dc5844"/>
<rect x="1178" y="504" width="1" height="85" fill="#7a7a7e"/>
<rect x="1176" y="575" width="5" height="11" fill="#1e5032"/>
<rect x="1177" y="576" width="3" height="9" fill="#6eaa88"/>
<rect x="1185" y="528" width="1" height="61" fill="#7a7a7e"/>
<rect x="1183" y="549" width="5" height="21" fill="#1e5032"/>
<rect x="1184" y="550" width="3" height="19" fill="#6eaa88"/>
<rect x="1191" y="474" width="1" height="95" fill="#7a7a7e"/>
<rect x="1189" y="489" width="5" height="57" fill="#1e5032"/>
<rect x="1190" y="490" width="3" height="55" fill="#6eaa88"/>
<rect x="1198" y="471" width="1" height="88" fill="#7a7a7e"/>
<rect x="1196" y="485" width="5" height="68" fill="#5c1a10"/>
<rect x="1197" y="486" width="3" height="66" fill="#dc5844"/>
<rect x="1204" y="546" width="1" height="54" fill="#7a7a7e"/>
<rect x="1202" y="565" width="5" height="5" fill="#5c1a10"/>
<rect x="1203" y="566" width="3" height="3" fill="#dc5844"/>
<rect x="1211" y="535" width="1" height="34" fill="#7a7a7e"/>
<rect x="1209" y="553" width="5" height="15" fill="#1e5032"/>
<rect x="1210" y="554" width="3" height="13" fill="#6eaa88"/>
<rect x="1217" y="530" width="1" height="33" fill="#7a7a7e"/>
<rect x="1215" y="549" width="5" height="7" fill="#1e5032"/>
<rect x="1216" y="550" width="3" height="5" fill="#6eaa88"/>
<rect x="1224" y="530" width="1" height="41" fill="#7a7a7e"/>
<rect x="1222" y="548" width="5" height="21" fill="#5c1a10"/>
<rect x="1223" y="549" width="3" height="19" fill="#dc5844"/>
<rect x="1231" y="557" width="1" height="79" fill="#7a7a7e"/>
<rect x="1229" y="578" width="5" height="52" fill="#5c1a10"/>
<rect x="1230" y="579" width="3" height="50" fill="#dc5844"/>
<rect x="1237" y="527" width="1" height="113" fill="#7a7a7e"/>
<rect x="1235" y="559" width="5" height="72" fill="#1e5032"/>
<rect x="1236" y="560" width="3" height="70" fill="#6eaa88"/>
<rect x="1244" y="478" width="1" height="77" fill="#7a7a7e"/>
<rect x="1242" y="532" width="5" height="18" fill="#1e5032"/>
<rect x="1243" y="533" width="3" height="16" fill="#6eaa88"/>
<rect x="1250" y="489" width="1" height="60" fill="#7a7a7e"/>
<rect x="1248" y="520" width="5" height="6" fill="#1e5032"/>
<rect x="1249" y="521" width="3" height="4" fill="#6eaa88"/>
<rect x="1257" y="501" width="1" height="50" fill="#7a7a7e"/>
<rect x="1255" y="513" width="5" height="3" fill="#1e5032"/>
<rect x="1256" y="514" width="3" height="1" fill="#6eaa88"/>
<rect x="1263" y="460" width="1" height="72" fill="#7a7a7e"/>
<rect x="1261" y="505" width="5" height="8" fill="#1e5032"/>
<rect x="1262" y="506" width="3" height="6" fill="#6eaa88"/>
<rect x="1270" y="475" width="1" height="31" fill="#7a7a7e"/>
<rect x="1268" y="499" width="5" height="5" fill="#1e5032"/>
<rect x="1269" y="500" width="3" height="3" fill="#6eaa88"/>
<rect x="1276" y="466" width="1" height="70" fill="#7a7a7e"/>
<rect x="1274" y="499" width="5" height="36" fill="#5c1a10"/>
<rect x="1275" y="500" width="3" height="34" fill="#dc5844"/>
<rect x="1283" y="520" width="1" height="52" fill="#7a7a7e"/>
<rect x="1281" y="536" width="5" height="23" fill="#5c1a10"/>
<rect x="1282" y="537" width="3" height="21" fill="#dc5844"/>
<rect x="1289" y="498" width="1" height="64" fill="#7a7a7e"/>
<rect x="1287" y="522" width="5" height="26" fill="#1e5032"/>
<rect x="1288" y="523" width="3" height="24" fill="#6eaa88"/>
<rect x="1296" y="484" width="1" height="44" fill="#7a7a7e"/>
<rect x="1294" y="521" width="5" height="7" fill="#5c1a10"/>
<rect x="1295" y="522" width="3" height="5" fill="#dc5844"/>
<rect x="1302" y="489" width="1" height="44" fill="#7a7a7e"/>
<rect x="1300" y="510" width="5" height="22" fill="#1e5032"/>
<rect x="1301" y="511" width="3" height="20" fill="#6eaa88"/>
<rect x="1309" y="478" width="1" height="42" fill="#7a7a7e"/>
<rect x="1307" y="508" width="5" height="2" fill="#1e5032"/>
<rect x="1315" y="466" width="1" height="47" fill="#7a7a7e"/>
<rect x="1313" y="499" width="5" height="12" fill="#1e5032"/>
<rect x="1314" y="500" width="3" height="10" fill="#6eaa88"/>
<rect x="1322" y="479" width="1" height="43" fill="#7a7a7e"/>
<rect x="1320" y="490" width="5" height="28" fill="#5c1a10"/>
<rect x="1321" y="491" width="3" height="26" fill="#dc5844"/>
<rect x="1328" y="500" width="1" height="55" fill="#7a7a7e"/>
<rect x="1326" y="524" width="5" height="12" fill="#5c1a10"/>
<rect x="1327" y="525" width="3" height="10" fill="#dc5844"/>
<rect x="1335" y="494" width="1" height="51" fill="#7a7a7e"/>
<rect x="1333" y="511" width="5" height="33" fill="#1e5032"/>
<rect x="1334" y="512" width="3" height="31" fill="#6eaa88"/>
<rect x="1341" y="495" width="1" height="87" fill="#7a7a7e"/>
<rect x="1339" y="505" width="5" height="32" fill="#5c1a10"/>
<rect x="1340" y="506" width="3" height="30" fill="#dc5844"/>
<rect x="1348" y="526" width="1" height="103" fill="#7a7a7e"/>
<rect x="1346" y="530" width="5" height="98" fill="#5c1a10"/>
<rect x="1347" y="531" width="3" height="96" fill="#dc5844"/>
<rect x="1354" y="557" width="1" height="72" fill="#7a7a7e"/>
<rect x="1352" y="575" width="5" height="49" fill="#1e5032"/>
<rect x="1353" y="576" width="3" height="47" fill="#6eaa88"/>
<rect x="1361" y="513" width="1" height="64" fill="#7a7a7e"/>
<rect x="1359" y="548" width="5" height="27" fill="#1e5032"/>
<rect x="1360" y="549" width="3" height="25" fill="#6eaa88"/>
<rect x="1367" y="502" width="1" height="47" fill="#7a7a7e"/>
<rect x="1365" y="516" width="5" height="32" fill="#1e5032"/>
<rect x="1366" y="517" width="3" height="30" fill="#6eaa88"/>
<rect x="1374" y="507" width="1" height="55" fill="#7a7a7e"/>
<rect x="1372" y="516" width="5" height="45" fill="#5c1a10"/>
<rect x="1373" y="517" width="3" height="43" fill="#dc5844"/>
<rect x="1380" y="516" width="1" height="45" fill="#7a7a7e"/>
<rect x="1378" y="528" width="5" height="32" fill="#1e5032"/>
<rect x="1379" y="529" width="3" height="30" fill="#6eaa88"/>
<rect x="1387" y="495" width="1" height="51" fill="#7a7a7e"/>
<rect x="1385" y="535" width="5" height="11" fill="#5c1a10"/>
<rect x="1386" y="536" width="3" height="9" fill="#dc5844"/>
<rect x="1393" y="510" width="1" height="53" fill="#7a7a7e"/>
<rect x="1391" y="545" width="5" height="4" fill="#5c1a10"/>
<rect x="1392" y="546" width="3" height="2" fill="#dc5844"/>
<rect x="1400" y="505" width="1" height="50" fill="#7a7a7e"/>
<rect x="1398" y="545" width="5" height="4" fill="#1e5032"/>
<rect x="1399" y="546" width="3" height="2" fill="#6eaa88"/>
<rect x="1406" y="450" width="1" height="118" fill="#7a7a7e"/>
<rect x="1404" y="455" width="5" height="88" fill="#1e5032"/>
<rect x="1405" y="456" width="3" height="86" fill="#6eaa88"/>
<rect x="1413" y="406" width="1" height="77" fill="#7a7a7e"/>
<rect x="1411" y="413" width="5" height="43" fill="#1e5032"/>
<rect x="1412" y="414" width="3" height="41" fill="#6eaa88"/>
</g>
<path clip-path="url(#ca)" d="M0.0,697.5 L3.4,697.8 L20.0,700.2 L33.5,697.5 L50.0,701.8 L67.0,700.8 L80.0,701.2 L90.5,698.5 L100.5,700.8 L120.6,699.5 L130.7,695.1 L140.8,691.8 L150.8,691.1 L162.5,689.4 L174.3,691.8 L182.6,694.1 L197.7,695.1 L209.5,697.5 L217.8,696.8 L227.9,693.5 L237.9,695.1 L251.3,698.5 L259.7,692.8 L278.2,692.8 L285.5,690.1 L291.6,692.8 L301.6,692.1 L311.7,694.1 L321.7,692.8 L335.0,691.8 L351.9,695.1 L368.6,695.8 L388.7,696.1 L402.0,698.5 L415.5,701.2 L424.0,697.5 L432.3,698.5 L442.4,701.2 L452.4,701.8 L464.0,703.5 L474.2,705.5 L486.0,702.8 L499.3,705.2 L510.0,705.9 L516.8,704.9 L533.5,703.5 L547.0,705.9 L553.6,705.2 L560.3,702.2 L577.0,703.2 L585.5,702.2 L597.2,703.2 L607.2,705.2 L617.3,705.2 L630.7,707.9 L647.5,710.2 L660.9,711.2 L671.0,711.6 L676.0,710.2 L682.6,710.9 L689.3,709.5 L701.0,710.5 L714.5,712.6 L722.9,711.6 L734.6,711.9 L743.0,709.9 L753.0,709.5 L761.4,706.9 L768.0,706.9 L781.5,709.5 L801.6,709.2 L815.0,708.2 L823.4,708.5 L833.4,710.5 L840.2,708.9 L855.2,708.5 L865.3,709.2 L878.7,710.9 L885.4,710.2 L891.4,705.9 L900.5,707.5 L912.2,710.2 L924.0,711.9 L932.3,710.9 L939.0,709.2 L952.4,707.5 L964.1,704.9 L975.9,703.5 L986.0,704.9 L994.3,704.5 L1002.7,706.5 L1010.3,706.7 L1020.6,705.7 L1030.9,707.7 L1041.2,705.3 L1060.0,707.0 L1075.5,710.5 L1089.2,712.9 L1099.5,713.6 L1106.3,711.8 L1120.0,711.2 L1137.2,713.9 L1144.0,713.2 L1154.3,713.9 L1164.6,711.8 L1171.5,712.5 L1185.2,712.2 L1197.2,711.2 L1209.2,713.6 L1224.6,717.0 L1240.0,714.6 L1253.8,715.3 L1264.0,715.6 L1274.4,717.0 L1291.5,718.7 L1308.7,721.4 L1319.0,722.5 L1332.7,723.2 L1346.4,720.0 L1360.0,719.7 L1377.3,721.4 L1391.0,722.1 L1399.6,722.5 L1406.4,720.0 L1412.6,719.4" fill="none" stroke="#c62828" stroke-width="1.1" stroke-linejoin="round"/>
<path clip-path="url(#ca)" d="M0.0,769.0 L3.4,768.9 L11.7,768.2 L16.8,772.2 L23.5,777.2 L30.2,797.3 L37.5,798.4 L50.3,777.2 L60.3,775.6 L70.4,775.6 L77.0,780.0 L83.8,773.9 L90.5,773.9 L97.2,776.6 L103.2,772.5 L109.0,775.6 L115.6,777.2 L124.0,770.5 L135.7,759.8 L142.4,767.2 L149.0,765.5 L155.8,753.8 L161.9,742.0 L168.6,747.1 L175.0,756.5 L181.0,757.1 L187.7,764.8 L194.4,770.5 L201.0,774.6 L206.8,774.9 L213.8,767.2 L219.5,777.9 L227.2,769.2 L233.0,767.9 L239.6,763.8 L246.3,756.5 L253.0,753.1 L259.0,738.7 L265.7,739.4 L278.8,750.4 L286.5,762.2 L292.2,766.2 L298.3,765.2 L311.7,765.2 L321.7,758.8 L331.8,753.8 L337.8,753.1 L350.9,761.2 L356.9,758.1 L364.3,749.4 L369.6,753.8 L378.0,764.8 L388.7,775.6 L396.4,782.3 L408.8,775.6 L416.2,779.6 L422.3,776.2 L430.6,767.2 L445.7,761.2 L454.8,760.5 L461.8,766.5 L480.9,771.2 L487.6,764.8 L494.3,757.1 L500.0,755.5 L506.7,753.8 L514.0,747.1 L520.0,747.1 L526.8,754.4 L532.5,751.4 L539.5,743.1 L546.2,743.1 L553.6,738.7 L560.3,734.3 L566.0,733.7 L572.0,740.4 L578.8,743.7 L585.5,750.4 L591.5,755.5 L597.2,753.1 L610.6,753.4 L617.3,756.5 L624.0,757.8 L630.0,759.8 L637.4,764.5 L643.4,765.5 L649.8,769.9 L655.8,767.9 L663.2,763.8 L669.9,764.5 L676.9,754.8 L683.3,753.1 L689.3,741.4 L696.0,735.7 L702.7,742.0 L708.8,747.1 L715.0,743.7 L722.9,748.8 L729.6,749.8 L735.6,748.8 L741.3,751.4 L748.0,757.8 L754.7,755.5 L761.4,762.2 L768.0,766.5 L774.8,760.5 L781.5,756.1 L787.2,754.4 L794.2,745.4 L800.6,753.8 L807.3,762.2 L814.0,750.4 L820.0,739.0 L825.7,739.4 L832.8,743.1 L839.1,760.5 L845.2,763.8 L851.9,768.2 L858.6,775.6 L865.3,779.2 L872.0,779.9 L878.7,783.9 L884.4,784.3 L891.4,790.0 L897.8,787.3 L903.8,782.9 L910.5,780.6 L917.2,777.2 L923.9,774.6 L930.6,773.2 L937.3,770.5 L943.4,767.2 L950.7,766.2 L956.8,767.9 L963.5,762.2 L970.2,761.8 L976.5,754.8 L982.6,749.1 L989.3,748.4 L996.0,747.1 L1000.0,746.5 L1014.7,746.5 L1020.6,750.6 L1028.0,751.6 L1034.3,755.0 L1041.2,760.9 L1048.0,765.3 L1054.9,770.1 L1061.7,774.3 L1066.9,774.6 L1073.7,771.9 L1080.6,772.9 L1086.8,775.3 L1094.3,772.2 L1099.5,771.2 L1106.3,773.9 L1113.2,777.3 L1120.0,773.9 L1127.0,774.6 L1137.2,777.3 L1145.0,779.7 L1152.6,778.7 L1157.8,779.0 L1164.6,774.6 L1171.5,775.6 L1178.3,773.6 L1185.2,771.9 L1191.4,766.0 L1197.9,767.4 L1204.0,772.9 L1211.0,769.5 L1217.8,768.1 L1224.0,769.5 L1229.8,780.4 L1236.7,772.2 L1243.5,755.0 L1249.7,752.3 L1255.5,751.3 L1262.4,742.7 L1268.5,743.0 L1275.4,749.6 L1282.3,763.6 L1289.8,755.7 L1295.0,753.7 L1303.5,752.3 L1313.8,749.6 L1320.7,754.0 L1327.5,761.9 L1334.4,757.5 L1341.3,767.7 L1347.0,782.5 L1355.0,780.4 L1360.8,769.5 L1367.0,760.9 L1373.8,768.4 L1380.7,766.0 L1386.9,762.6 L1393.4,765.3 L1400.2,762.6 L1406.4,745.5 L1412.6,731.0" fill="none" stroke="#2962ff" stroke-width="1.1" stroke-linejoin="round"/>
<g shape-rendering="crispEdges">
<rect x="3" y="687" width="1516" height="2" fill="#e0e3eb"/>
<rect x="3" y="726" width="1516" height="1" fill="#e0e3eb"/>
<rect x="1461" y="2" width="58" height="801" fill="#ffffff"/>
</g>
<text x="1468.3" y="54.8" font-size="12" fill="#555555" font-weight="normal" text-anchor="start" textLength="41.2" lengthAdjust="spacingAndGlyphs">0.87600</text>
<text x="1468.3" y="99.8" font-size="12" fill="#555555" font-weight="normal" text-anchor="start" textLength="41.2" lengthAdjust="spacingAndGlyphs">0.87400</text>
<text x="1468.3" y="144.9" font-size="12" fill="#555555" font-weight="normal" text-anchor="start" textLength="41.2" lengthAdjust="spacingAndGlyphs">0.87200</text>
<text x="1468.3" y="189.9" font-size="12" fill="#555555" font-weight="normal" text-anchor="start" textLength="41.2" lengthAdjust="spacingAndGlyphs">0.87000</text>
<text x="1468.3" y="235.0" font-size="12" fill="#555555" font-weight="normal" text-anchor="start" textLength="41.2" lengthAdjust="spacingAndGlyphs">0.86800</text>
<text x="1468.3" y="280.1" font-size="12" fill="#555555" font-weight="normal" text-anchor="start" textLength="41.2" lengthAdjust="spacingAndGlyphs">0.86600</text>
<text x="1468.3" y="325.1" font-size="12" fill="#555555" font-weight="normal" text-anchor="start" textLength="41.2" lengthAdjust="spacingAndGlyphs">0.86400</text>
<text x="1468.3" y="370.1" font-size="12" fill="#555555" font-weight="normal" text-anchor="start" textLength="41.2" lengthAdjust="spacingAndGlyphs">0.86200</text>
<text x="1468.3" y="415.2" font-size="12" fill="#555555" font-weight="normal" text-anchor="start" textLength="41.2" lengthAdjust="spacingAndGlyphs">0.86000</text>
<text x="1468.3" y="460.2" font-size="12" fill="#555555" font-weight="normal" text-anchor="start" textLength="41.2" lengthAdjust="spacingAndGlyphs">0.85800</text>
<text x="1468.3" y="505.3" font-size="12" fill="#555555" font-weight="normal" text-anchor="start" textLength="41.2" lengthAdjust="spacingAndGlyphs">0.85600</text>
<text x="1468.3" y="550.3" font-size="12" fill="#555555" font-weight="normal" text-anchor="start" textLength="41.2" lengthAdjust="spacingAndGlyphs">0.85400</text>
<text x="1468.3" y="595.4" font-size="12" fill="#555555" font-weight="normal" text-anchor="start" textLength="41.2" lengthAdjust="spacingAndGlyphs">0.85200</text>
<text x="1468.3" y="640.4" font-size="12" fill="#555555" font-weight="normal" text-anchor="start" textLength="41.2" lengthAdjust="spacingAndGlyphs">0.85000</text>
<text x="1468.3" y="685.5" font-size="12" fill="#555555" font-weight="normal" text-anchor="start" textLength="41.2" lengthAdjust="spacingAndGlyphs">0.84800</text>
<clipPath id="c1"><rect x="1461" y="689" width="58" height="30"/></clipPath>
<g clip-path="url(#c1)"><text x="1468.3" y="693.5" font-size="12" fill="#555555" textLength="41.2" lengthAdjust="spacingAndGlyphs">0.00500</text></g>
<text x="1468.3" y="736" font-size="12" fill="#555555" font-weight="normal" text-anchor="start" textLength="35.2" lengthAdjust="spacingAndGlyphs">250.00</text>
<text x="1468.3" y="766.5" font-size="12" fill="#555555" font-weight="normal" text-anchor="start" textLength="23.4" lengthAdjust="spacingAndGlyphs">0.00</text>
<text x="1464.5" y="797.5" font-size="12" fill="#555555" font-weight="normal" text-anchor="start" textLength="39" lengthAdjust="spacingAndGlyphs">-250.00</text>
<rect x="1461" y="687" width="58" height="2" fill="#e0e3eb" shape-rendering="crispEdges"/>
<rect x="1461" y="726" width="58" height="1" fill="#e0e3eb" shape-rendering="crispEdges"/>
<path d="M1460.5,28.5 H1513.5 a2,2 0 0 1 2,2 V42.8 a2,2 0 0 1 -2,2 H1460.5 Z" fill="#000000"/>
<text x="1468.3" y="40.9" font-size="12" font-weight="bold" fill="#ffffff" textLength="41.5" lengthAdjust="spacingAndGlyphs">0.87659</text>
<path d="M1460.5,143.3 H1513.5 a2,2 0 0 1 2,2 V157.60000000000002 a2,2 0 0 1 -2,2 H1460.5 Z" fill="#000000"/>
<text x="1468.3" y="155.70000000000002" font-size="12" font-weight="bold" fill="#ffffff" textLength="41.5" lengthAdjust="spacingAndGlyphs">0.87149</text>
<path d="M1460.5,174.3 H1513.5 a2,2 0 0 1 2,2 V188.60000000000002 a2,2 0 0 1 -2,2 H1460.5 Z" fill="#000000"/>
<text x="1468.3" y="186.70000000000002" font-size="12" font-weight="bold" fill="#ffffff" textLength="41.5" lengthAdjust="spacingAndGlyphs">0.87013</text>
<path d="M1460.5,358.4 H1513.5 a2,2 0 0 1 2,2 V372.7 a2,2 0 0 1 -2,2 H1460.5 Z" fill="#f23645"/>
<text x="1468.3" y="370.79999999999995" font-size="12" font-weight="bold" fill="#ffffff" textLength="41.5" lengthAdjust="spacingAndGlyphs">0.86199</text>
<path d="M1460.5,517.3 H1513.5 a2,2 0 0 1 2,2 V531.5999999999999 a2,2 0 0 1 -2,2 H1460.5 Z" fill="#000000"/>
<text x="1468.3" y="529.6999999999999" font-size="12" font-weight="bold" fill="#ffffff" textLength="41.5" lengthAdjust="spacingAndGlyphs">0.85493</text>
<path d="M1460.5,620.3 H1513.5 a2,2 0 0 1 2,2 V634.5999999999999 a2,2 0 0 1 -2,2 H1460.5 Z" fill="#000000"/>
<text x="1468.3" y="632.6999999999999" font-size="12" font-weight="bold" fill="#ffffff" textLength="41.5" lengthAdjust="spacingAndGlyphs">0.85035</text>
<path d="M1460.5,643.4 H1513.5 a2,2 0 0 1 2,2 V657.6999999999999 a2,2 0 0 1 -2,2 H1460.5 Z" fill="#000000"/>
<text x="1468.3" y="655.8" font-size="12" font-weight="bold" fill="#ffffff" textLength="41.5" lengthAdjust="spacingAndGlyphs">0.84934</text>
<rect x="1460" y="2" width="1" height="829" fill="#4a4a4a" shape-rendering="crispEdges"/>
<rect x="3" y="803" width="1516" height="1" fill="#4a4a4a" shape-rendering="crispEdges"/>
<rect x="1461" y="2" width="58" height="33.5" fill="#ffffff"/>
<rect x="1464.5" y="6.5" width="50.5" height="25" rx="4" fill="#ffffff" stroke="#e0e3eb" stroke-width="1"/>
<text x="1468.3" y="23.2" font-size="12" fill="#131722" font-weight="normal" text-anchor="start" textLength="21" lengthAdjust="spacingAndGlyphs">GBP</text>
<path d="M1505.3,17.7 l2.7,2.7 l2.7,-2.7" fill="none" stroke="#131722" stroke-width="1.3"/>
<text x="38.4" y="821" font-size="12" fill="#555555" font-weight="normal" text-anchor="middle">Jun</text>
<text x="181.8" y="821" font-size="12" fill="#555555" font-weight="normal" text-anchor="middle">Jul</text>
<text x="318.6" y="821" font-size="12" fill="#555555" font-weight="normal" text-anchor="middle">Aug</text>
<text x="468.5" y="821" font-size="12" fill="#555555" font-weight="normal" text-anchor="middle">Sep</text>
<text x="605.4" y="821" font-size="12" fill="#555555" font-weight="normal" text-anchor="middle">Oct</text>
<text x="748.8" y="821" font-size="12" fill="#555555" font-weight="normal" text-anchor="middle">Nov</text>
<text x="892.1" y="821" font-size="12" fill="#555555" font-weight="normal" text-anchor="middle">Dec</text>
<text x="1178.9" y="821" font-size="12" fill="#555555" font-weight="normal" text-anchor="middle">Feb</text>
<text x="1315.7" y="821" font-size="12" fill="#555555" font-weight="normal" text-anchor="middle">Mar</text>
<text x="1029.0" y="821" font-size="12" fill="#444444" font-weight="bold" text-anchor="middle">2024</text>
<clipPath id="c2"><rect x="1400" y="804" width="60" height="27"/></clipPath>
<g clip-path="url(#c2)"><text x="1452.6" y="821" font-size="12" fill="#555555" text-anchor="middle">Apr</text></g>
<path d="M1483.3,817.3 l3.5,-6 h7 l3.5,6 l-3.5,6 h-7 z" fill="none" stroke="#131722" stroke-width="1.2"/><circle cx="1490.3" cy="817.3" r="2.1" fill="none" stroke="#131722" stroke-width="1.2"/>
<rect x="8" y="7" width="636" height="26" fill="#ffffff" fill-opacity="0.7"/>
<rect x="8" y="33" width="160" height="27" fill="#ffffff" fill-opacity="0.7"/>
<rect x="8" y="66" width="562" height="21" fill="#ffffff" fill-opacity="0.7"/>
<rect x="8" y="86" width="36" height="25" fill="#ffffff" fill-opacity="0.7"/>
<rect x="8" y="697" width="128" height="17" fill="#ffffff" fill-opacity="0.6"/>
<rect x="7" y="732" width="160" height="23" fill="#ffffff" fill-opacity="0.7"/>
<circle cx="24.8" cy="14.8" r="6" fill="#2a4fa8"/>
<g><clipPath id="uk"><circle cx="24.8" cy="14.8" r="6"/></clipPath><g clip-path="url(#uk)"><path d="M18,9 L32,21 M32,9 L18,21" stroke="#ffffff" stroke-width="2.4"/><path d="M18,9 L32,21 M32,9 L18,21" stroke="#f0505a" stroke-width="1"/><path d="M24.8,8 V22 M18,14.8 H32" stroke="#ffffff" stroke-width="4"/><path d="M24.8,8 V22 M18,14.8 H32" stroke="#f0505a" stroke-width="2.4"/></g></g>
<circle cx="18" cy="21" r="7" fill="#ffffff"/>
<circle cx="18" cy="21" r="6" fill="#1a5dc0"/>
<circle cx="21.60" cy="21.00" r="0.6" fill="#f5c542"/>
<circle cx="20.55" cy="23.55" r="0.6" fill="#f5c542"/>
<circle cx="18.00" cy="24.60" r="0.6" fill="#f5c542"/>
<circle cx="15.45" cy="23.55" r="0.6" fill="#f5c542"/>
<circle cx="14.40" cy="21.00" r="0.6" fill="#f5c542"/>
<circle cx="15.45" cy="18.45" r="0.6" fill="#f5c542"/>
<circle cx="18.00" cy="17.40" r="0.6" fill="#f5c542"/>
<circle cx="20.55" cy="18.45" r="0.6" fill="#f5c542"/>
<text x="34.8" y="24" font-size="16" fill="#4a4a4a" font-weight="normal" text-anchor="start" textLength="207" lengthAdjust="spacingAndGlyphs">Euro / British Pound · 1D · ICE</text>
<circle cx="267" cy="18" r="9" fill="#089981" fill-opacity="0.15"/><circle cx="267" cy="18" r="3.6" fill="#089981"/>
<text x="292.5" y="23" font-size="13" textLength="348" lengthAdjust="spacingAndGlyphs"><tspan fill="#555">O</tspan><tspan fill="#2f6b4a">0.85802</tspan><tspan fill="#555" dx="6.3">H</tspan><tspan fill="#2f6b4a">0.86020</tspan><tspan fill="#555" dx="6.3">L</tspan><tspan fill="#2f6b4a">0.85678</tspan><tspan fill="#555" dx="6.3">C</tspan><tspan fill="#2f6b4a">0.85987</tspan><tspan fill="#2f6b4a" dx="6.3">+0.00186 (+0.22%)</tspan></text>
<rect x="11.5" y="35.5" width="60.5" height="22" rx="3" fill="#ffffff" stroke="#f23645" stroke-width="1"/>
<text x="19" y="51" font-size="13" fill="#f23645">0.8598<tspan font-size="10" dy="-3">8</tspan></text>
<text x="79.5" y="51" font-size="12" fill="#333333" font-weight="normal" text-anchor="start" textLength="15.5" lengthAdjust="spacingAndGlyphs">0.5</text>
<rect x="103.5" y="35.5" width="60.5" height="22" rx="3" fill="#ffffff" stroke="#2962ff" stroke-width="1"/>
<text x="111" y="51" font-size="13" fill="#2962ff">0.8599<tspan font-size="10" dy="-3">3</tspan></text>
<text x="12" y="78.5" font-size="13" fill="#555555" font-weight="normal" text-anchor="start" textLength="383" lengthAdjust="spacingAndGlyphs">MA Ribbon SMA close 20 SMA close 50 SMA close 100 SMA close 200</text>
<text x="403.6" y="78.5" font-size="13" fill="#f23645" font-weight="normal" text-anchor="start" textLength="45" lengthAdjust="spacingAndGlyphs">0.85486</text>
<text x="454.8" y="78.5" font-size="13" fill="#2962ff" font-weight="normal" text-anchor="start" textLength="45" lengthAdjust="spacingAndGlyphs">0.85481</text>
<text x="507.5" y="78.5" font-size="12" fill="#333" font-weight="normal" text-anchor="start">∅</text>
<text x="521" y="78.5" font-size="13" fill="#1a1a1a" font-weight="normal" text-anchor="start" textLength="44.5" lengthAdjust="spacingAndGlyphs">0.86063</text>
<rect x="12" y="88.8" width="28.5" height="20" rx="3" fill="#ffffff" stroke="#e0e3eb" stroke-width="1"/>
<path d="M22.5,100.5 l3.8,-3.8 l3.8,3.8" fill="none" stroke="#131722" stroke-width="1.3"/>
<text x="12" y="709" font-size="13" fill="#555555" textLength="67" lengthAdjust="spacingAndGlyphs">ATR 14 RMA</text>
<text x="87.5" y="709" font-size="13" fill="#c62828" font-weight="normal" text-anchor="start" textLength="45" lengthAdjust="spacingAndGlyphs">0.00285</text>
<text x="12" y="748" font-size="13" fill="#555555" font-weight="normal" text-anchor="start" textLength="101.5" lengthAdjust="spacingAndGlyphs">CCI 20 hlc3 SMA 5</text>
<text x="122" y="748" font-size="13" fill="#2962ff" font-weight="normal" text-anchor="start" textLength="38" lengthAdjust="spacingAndGlyphs">257.42</text>
<g stroke="#ffffff" stroke-width="3" stroke-linejoin="round" fill="#ffffff"><path d="M15.1,774 H26.8 V788.8 H21 V779.6 H15.1 Z"/><circle cx="31.9" cy="777.1" r="2.7"/><path d="M38.6,774 H44.8 L39,788.8 H32.1 Z"/></g>
<g fill="#131722"><path d="M15.1,774 H26.8 V788.8 H21 V779.6 H15.1 Z"/><circle cx="31.9" cy="777.1" r="2.7"/><path d="M38.6,774 H44.8 L39,788.8 H32.1 Z"/></g>
<defs><filter id="ws" x="-10%" y="-10%" width="125%" height="125%"><feDropShadow dx="2.2" dy="2.2" stdDeviation="1.3" flood-color="#000000" flood-opacity="0.55"/></filter></defs>
<g opacity="0.82" filter="url(#ws)" fill="none" stroke="#ffffff" stroke-width="9.2" stroke-linejoin="miter" stroke-linecap="butt">
<g transform="translate(1286.0,742) skewX(-13) scale(1.0,0.96)">
<path d="M0,15 H20"/>
<path d="M11,0 V52 L4,56"/>
<path d="M0,42 L21,32"/>
<path d="M24,6 H58"/>
<path d="M40,6 L27,34"/>
<path d="M32,28 H54 V54 H30 Z"/>
</g>
<g transform="translate(1344.9,742) skewX(-13) scale(1.0,0.96)">
<path d="M8,6 H46 L43,26"/>
<path d="M14,6 L11,27 H52 L49,52 Q48,56 40,56 H34"/>
<path d="M0,41 H40"/>
</g>
<g transform="translate(1403.8,742) skewX(-13) scale(1.0,0.96)">
<path d="M3,4 H22 V38 H3 Z"/>
<path d="M3,21 H22"/>
<path d="M9,39 L1,57"/>
<path d="M17,39 L25,57"/>
<path d="M28,16 H58"/>
<path d="M46,0 V52 L39,56"/>
<path d="M45,18 L29,44"/>
</g>
<g transform="translate(1462.7,742) skewX(-13) scale(1.0,0.96)">
<path d="M15,0 L3,17 H16 L2,37 L19,34"/>
<path d="M1,54 L21,47"/>
<path d="M28,4 H53 L36,24"/>
<path d="M40,13 L57,26"/>
<path d="M29,36 H55"/>
<path d="M42,36 V55"/>
<path d="M25,56 H58"/>
</g>
</g>
<text x="1287" y="829.3" font-size="32" font-weight="bold" font-style="italic" fill="#6f93e3" stroke="#6f93e3" stroke-width="1.6" fill-opacity="0.78" stroke-opacity="0.78" textLength="224" lengthAdjust="spacing">zzrt01.cn</text>
</svg></body></html>
